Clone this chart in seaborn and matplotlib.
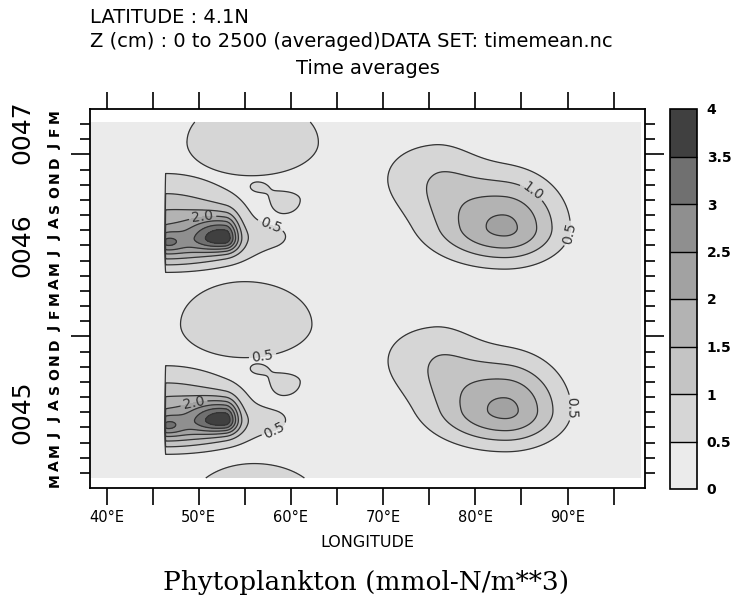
import numpy as np
import matplotlib
matplotlib.use("Agg")
import matplotlib.pyplot as plt
import seaborn as sns

# ---------------------------------------------------------------------------
# Phytoplankton field, latitude 4.1N, longitude x time (months since 1 Mar 0045)
# Each feature is a skewed Gaussian patch: centre, peak and e-folding widths
# on each side (degrees of longitude / months).  Patches of one GROUP add up;
# separate groups are combined by taking the larger value.
# ---------------------------------------------------------------------------
BLOB_GROUP = [0, 0, 0, 0,
              1, 1, 1, 1,
              2, 2, 3, 3,
              4, 5, 6,
              7, 7, 8, 8]
BLOB_LON   = [46.4, 52.9, 46.6, 58.3,
              46.4, 52.9, 46.6, 58.3,
              56.3, 59.2, 56.3, 59.2,
              56.0, 55.0, 55.7,
              83.3, 75.5, 83.2, 75.5]
BLOB_MONTH = [4.0, 4.5, 4.1, 4.5,
              16.0, 16.5, 16.2, 16.6,
              7.9, 7.0, 19.9, 19.0,
              -1.2, 10.8, 22.8,
              5.1, 8.6, 17.15, 20.6]
BLOB_PEAK  = [2.1, 2.7, 0.9, 0.4,
              2.1, 2.7, 0.9, 0.4,
              0.62, 0.75, 0.62, 0.75,
              0.8, 0.8, 0.8,
              2.1, 0.75, 2.1, 0.75]
BLOB_WEST  = [3.0, 2.6, 0.8, 2.5,
              3.0, 2.6, 0.8, 2.5,
              1.0, 1.6, 1.0, 1.6,
              7.2, 7.2, 7.2,
              5.3, 5.0, 5.3, 5.0]
BLOB_EAST  = [6.0, 1.0, 1.2, 1.5,
              6.0, 1.0, 1.2, 1.5,
              1.2, 2.0, 1.2, 2.0,
              7.5, 7.5, 7.5,
              4.2, 3.5, 4.2, 3.5]
BLOB_BELOW = [1.05, 0.6, 0.4, 0.6,
              1.05, 0.6, 0.4, 0.6,
              0.4, 1.0, 0.4, 1.0,
              2.27, 2.27, 2.27,
              1.6, 2.0, 1.6, 2.0]
BLOB_ABOVE = [2.4, 0.9, 0.5, 0.6,
              2.8, 1.0, 0.5, 0.6,
              0.4, 0.6, 0.4, 0.6,
              2.9, 2.9, 2.9,
              2.4, 2.0, 2.4, 2.0]

COAST_LON = 46.4                 # land to the west of this longitude
DATA_LON = (38.4, 97.9)
DATA_MONTH = (0.66, 24.14)

LEVELS = [0, 0.5, 1, 1.5, 2, 2.5, 3, 3.5, 4]
BAND_COLORS = ["#ebebeb", "#d6d6d6", "#c4c4c4", "#b3b3b3",
               "#a2a2a2", "#8f8f8f", "#707070", "#404040"]
CBAR_LABELS = ["0", "0.5", "1", "1.5", "2", "2.5", "3", "3.5", "4"]

LON_TICKS = [40, 50, 60, 70, 80, 90]
LON_LABELS = ["40°E", "50°E", "60°E", "70°E", "80°E", "90°E"]
MONTH_LETTERS = list("MAMJJASONDJFMAMJJASONDJFM")
YEAR_LABELS = ["0045", "0046", "0047"]
YEAR_CENTRES = [5.0, 16.0, 23.5]
YEAR_STARTS = [10, 22]

# contour labels: (level, lon, month)
LABEL_SPOTS = [(0.5, 90.05, 16.8), (1.0, 85.6, 19.1), (0.5, 90.3, 5.3),
               (2.0, 50.4, 17.9), (0.5, 57.6, 17.0), (2.0, 49.4, 5.8),
               (0.5, 58.1, 4.0), (0.5, 56.9, 8.8)]

# ---------------------------------------------------------------------------
lon = np.linspace(DATA_LON[0], DATA_LON[1], 700)
mon = np.linspace(DATA_MONTH[0], DATA_MONTH[1], 600)
LON, MON = np.meshgrid(lon, mon)
groups = {}
for g, x0, t0, a, sw, se, sb, sa in zip(BLOB_GROUP, BLOB_LON, BLOB_MONTH,
                                        BLOB_PEAK, BLOB_WEST, BLOB_EAST,
                                        BLOB_BELOW, BLOB_ABOVE):
    dx = LON - x0
    dt = MON - t0
    sx = np.where(dx < 0, sw, se)
    st = np.where(dt < 0, sb, sa)
    groups[g] = groups.get(g, 0.0) + a * np.exp(-0.5 * ((dx / sx) ** 2 + (dt / st) ** 2))
field = np.max(np.stack(list(groups.values())), axis=0)
field[LON < COAST_LON] = 0.0

sns.set_theme(style="white")
plt.rcParams["font.family"] = ["DejaVu Sans"]
plt.rcParams["text.color"] = "black"
plt.rcParams["axes.labelcolor"] = "black"
plt.rcParams["xtick.color"] = "black"
plt.rcParams["ytick.color"] = "black"

fig = plt.figure(figsize=(7.32, 6.02), dpi=100)
ax = fig.add_axes([90 / 732, 1 - 488 / 602, 555 / 732, 379 / 602])
cax = fig.add_axes([670 / 732, 1 - 489 / 602, 27 / 732, 380 / 602])

cf = ax.contourf(LON, MON, field, levels=LEVELS, colors=BAND_COLORS)
for lev in LEVELS[1:-1]:
    cs = ax.contour(LON, MON, field, levels=[lev], colors="#333333",
                    linewidths=0.9)
    pts = [(s[1], s[2]) for s in LABEL_SPOTS if s[0] == lev]
    if pts:
        ax.clabel(cs, manual=pts, fmt="%.1f", fontsize=10,
                  inline=True, inline_spacing=3)

ax.set_xlim(38.2, 98.4)
ax.set_ylim(0, 25)
ax.set_facecolor("white")
for sp in ax.spines.values():
    sp.set_linewidth(1.3)
    sp.set_color("black")

ax.set_xticks(LON_TICKS)
ax.set_xticklabels(LON_LABELS, fontsize=10.5)
ax.set_xticks(np.arange(45, 96, 10), minor=True)
ax.tick_params(axis="x", which="both", direction="out", length=12, width=1.2,
               top=True, bottom=True, labeltop=False, color="black", pad=4)
ax.set_yticks(YEAR_STARTS)
ax.set_yticks(np.arange(1, 25), minor=True)
ax.set_yticklabels([])
ax.tick_params(axis="y", which="major", direction="out", length=14, width=1.2,
               left=True, right=True, color="black")
ax.tick_params(axis="y", which="minor", direction="out", length=7, width=1.2,
               left=True, right=True, color="black")
ax.set_xlabel("LONGITUDE", fontsize=11.5, labelpad=7)

ytr = ax.get_yaxis_transform()
for i, letter in enumerate(MONTH_LETTERS):
    ax.text(-0.063, i + 0.5, letter, transform=ytr, rotation=90,
            ha="center", va="center", fontsize=10, fontweight="bold")
for lab, yc in zip(YEAR_LABELS, YEAR_CENTRES):
    ax.text(-0.1225, yc, lab, transform=ytr, rotation=90,
            ha="center", va="center", fontsize=18)

cb = fig.colorbar(cf, cax=cax, ticks=LEVELS, drawedges=True)
cb.ax.set_yticklabels(CBAR_LABELS, fontsize=10, fontweight="bold")
cb.ax.tick_params(length=0, pad=7)
cb.outline.set_linewidth(1.2)
cb.outline.set_edgecolor("black")
cb.dividers.set_color("black")
cb.dividers.set_linewidth(1.0)

fig.text(90 / 732, 1 - 23 / 602, "LATITUDE : 4.1N", fontsize=14,
         ha="left", va="baseline")
fig.text(90 / 732, 1 - 47 / 602,
         "Z (cm) : 0 to 2500 (averaged)DATA SET: timemean.nc",
         fontsize=14, ha="left", va="baseline")
fig.text(368 / 732, 1 - 74 / 602, "Time averages", fontsize=14,
         ha="center", va="baseline")
fig.text(366 / 732, 1 - 590 / 602, "Phytoplankton (mmol-N/m**3)",
         fontsize=19, family=["DejaVu Serif"], ha="center", va="baseline")

fig.savefig("out.png", dpi=100, facecolor="white")
